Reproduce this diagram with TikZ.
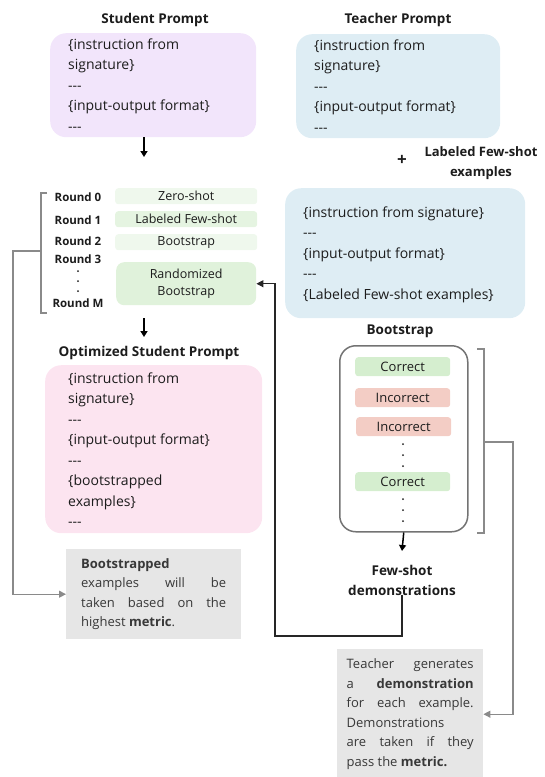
\documentclass[tikz,border=0pt]{standalone}
\usepackage{fontspec}
\setmainfont{Open Sans}
\usetikzlibrary{arrows.meta,positioning}

\definecolor{studfill}{HTML}{F2E5FB}
\definecolor{teachfill}{HTML}{DEEDF4}
\definecolor{optfill}{HTML}{FCE4F0}
\definecolor{roundpale}{HTML}{EFF8ED}
\definecolor{roundmid}{HTML}{E5F4E1}
\definecolor{roundrand}{HTML}{E0F2DB}
\definecolor{okfill}{HTML}{D5EECF}
\definecolor{badfill}{HTML}{F3CDC5}
\definecolor{notefill}{HTML}{E6E6E6}
\definecolor{linegray}{HTML}{8A8A8A}
\definecolor{ink}{HTML}{1C1C1C}
\newcommand{\tridash}{-{}-{}-}

\begin{document}
\begin{tikzpicture}[x=1pt,y=-1pt]
\tikzstyle{every node}=[text=ink,inner sep=0pt]
\tikzstyle{prompt}=[anchor=north west,rounded corners=16pt]
\tikzstyle{ptext}=[anchor=west,align=left,font=\fontsize{14}{20.5}\selectfont]
\tikzstyle{title}=[font=\bfseries\fontsize{13.5}{20}\selectfont,align=center]
\tikzstyle{roundlbl}=[font=\bfseries\fontsize{11.5}{13}\selectfont]
\tikzstyle{stage}=[anchor=north west,rounded corners=3pt,minimum width=142pt,minimum height=16pt,font=\fontsize{12.5}{16.5}\selectfont,align=center]
\tikzstyle{demo}=[anchor=north west,rounded corners=3pt,minimum width=95pt,minimum height=19pt,font=\fontsize{13}{15}\selectfont]
\tikzstyle{note}=[anchor=north west,fill=notefill,text=black!78,align=justify,font=\fontsize{13}{19.6}\selectfont]
\tikzstyle{blackarrow}=[draw=black,line width=1.5pt,-{Triangle[length=6pt,width=7pt]}]
\tikzstyle{loopline}=[draw=black!85,line width=1.1pt,-{Triangle[length=7pt,width=7pt]}]
\tikzstyle{grayline}=[draw=linegray,line width=1.2pt]
\tikzstyle{grayarrow}=[grayline,-{Triangle[length=7pt,width=7pt]}]
\useasboundingbox (0,0) rectangle (545,777);

% prompts at the top
\node[title] (studtitle) at (155,20) {Student Prompt};
\node[title] (teachtitle) at (398,20) {Teacher Prompt};
\node[prompt,fill=studfill,minimum width=206pt,minimum height=104pt] (stud) at (50,33) {};
\node[ptext] (studtxt) at (68,85) {\{instruction from\\signature\}\\\tridash\\\{input-output format\}\\\tridash};
\node[prompt,fill=teachfill,minimum width=204pt,minimum height=104pt] (teach) at (296,34) {};
\node[ptext] (teachtxt) at (314,86) {\{instruction from\\signature\}\\\tridash\\\{input-output format\}\\\tridash};

\node[font=\bfseries\fontsize{17}{17}\selectfont] (plus) at (402,160) {+};
\node[title,font=\bfseries\fontsize{13}{20}\selectfont] (fewlbl) at (481,163) {Labeled Few-shot\\examples};

% rounds
\node[roundlbl] (r0) at (78,197) {Round 0};
\node[roundlbl] (r1) at (78,220) {Round 1};
\node[roundlbl] (r2) at (78,241) {Round 2};
\node[roundlbl] (r3) at (78,259) {Round 3};
\node[roundlbl] (rM) at (78,303) {Round M};
\foreach \y in {271,281,291}
  \fill[ink] (78,\y) circle (1pt);
\node[stage,fill=roundpale] (zero) at (115,188) {Zero-shot};
\node[stage,fill=roundmid] (labeled) at (115,211) {Labeled Few-shot};
\node[stage,fill=roundpale] (boot) at (115,234) {Bootstrap};
\node[stage,fill=roundrand,rounded corners=8pt,minimum width=140pt,minimum height=43pt] (rand) at (116,262) {Randomized\\Bootstrap};
\draw[grayline] (47,193) -- (41,193) -- (41,313) -- (47,313);

% optimized prompt
\node[title] (opttitle) at (149,353) {Optimized Student Prompt};
\node[prompt,fill=optfill,minimum width=217pt,minimum height=168pt] (opt) at (45,365) {};
\node[ptext] (opttxt) at (68,449.5) {\{instruction from\\signature\}\\\tridash\\\{input-output format\}\\\tridash\\\{bootstrapped\\examples\}\\\tridash};

\node[note,text width=145pt,minimum width=175pt,minimum height=90pt] (note1) at (66,549) {\textbf{Bootstrapped}\newline examples will be\linebreak taken based on the\linebreak highest \textbf{metric}.};

% teacher with labeled examples
\node[prompt,fill=teachfill,minimum width=240pt,minimum height=130pt] (teach2) at (285,188) {};
\node[ptext] (teach2txt) at (303,254.5) {\{instruction from signature\}\\\tridash\\\{input-output format\}\\\tridash\\\{Labeled Few-shot examples\}};

% bootstrap
\node[title] (boottitle) at (400,331) {Bootstrap};
\node[anchor=north west,draw=black!55,line width=1.5pt,rounded corners=16pt,minimum width=128pt,minimum height=186pt] (bootbox) at (339,345) {};
\node[demo,fill=okfill] (c1) at (355,357) {Correct};
\node[demo,fill=badfill] (i1) at (355,388) {Incorrect};
\node[demo,fill=badfill] (i2) at (356,417) {Incorrect};
\node[demo,fill=okfill] (c2) at (355,472) {Correct};
\foreach \y in {444,455,466,499,510,521}
  \fill[ink] (403,\y) circle (1pt);
\draw[grayline] (477,349) -- (484,349) -- (484,533) -- (477,533);

\node[title] (fsd) at (402,580) {Few-shot\\demonstrations};

\node[note,text width=127pt,minimum width=146pt,minimum height=130pt] (note2) at (337,649) {Teacher generates\linebreak a \textbf{demonstration}\linebreak for each example.\linebreak Demonstrations\newline are taken if they\linebreak pass the \textbf{metric.}};

% connectors
\coordinate (rtop) at (144,157);
\coordinate (rbot) at (144,318);
\coordinate (otop) at (144,337);
\coordinate (fsdin) at (402,551);
\coordinate (lbrack) at (41,251);
\coordinate (lrail) at (13,0);
\coordinate (rbrack) at (484,442);
\coordinate (rrail) at (513,0);
\coordinate (loopturn) at (275,636);
\draw[blackarrow] (stud.south -| rtop) -- (rtop);
\draw[blackarrow] (rbot) -- (otop);
\draw[blackarrow] (bootbox.south) -- (fsdin);
\draw[loopline] (fsd.south) |- (loopturn) |- (rand.east);
\draw[grayarrow] (lbrack) -- (lbrack -| lrail) |- (note1.west);
\draw[grayarrow] (rbrack) -- (rbrack -| rrail) |- (note2.east);
\end{tikzpicture}
\end{document}
